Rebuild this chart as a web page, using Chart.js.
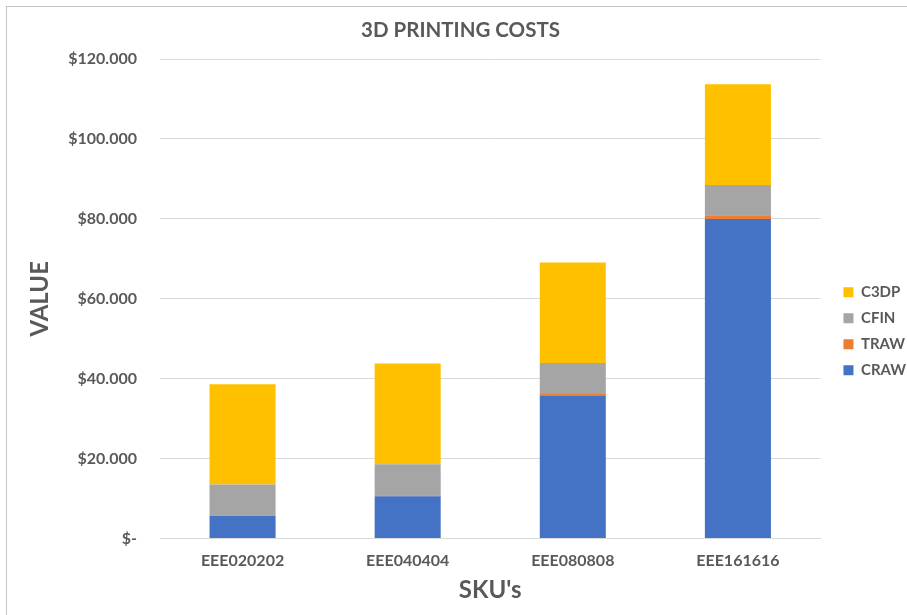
<!DOCTYPE html>
<html>
<head>
<meta charset="utf-8">
<script src="https://cdn.jsdelivr.net/npm/chart.js@4/dist/chart.umd.min.js"></script>
<style>
  html, body { margin: 0; padding: 0; background: #ffffff; }
  #frame {
    position: absolute; left: 6px; top: 6px;
    border-left: 1px solid #c4c4c4; border-top: 1px solid #c4c4c4;
    width: 900px; height: 608px;
  }
  canvas { display: block; }
</style>
</head>
<body>
<div id="frame"><canvas id="chart" width="900" height="608"></canvas></div>
<script>
// SKUs and cost components (USD)
const skus = ['EEE020202', 'EEE040404', 'EEE080808', 'EEE161616'];
const craw = [5700, 10600, 35700, 80000];
const traw = [100, 200, 500, 900];
const cfin = [7700, 7800, 7700, 7600];
const c3dp = [25100, 25200, 25200, 25200];

const FONT = "Lato, 'Open Sans', 'Liberation Sans', sans-serif";
const TEXT = '#595959';

function money(v) {
  if (v === 0) return '$-';
  return '$' + v.toLocaleString('de-DE');
}

// leave a wider gap between the plot and the legend column
const legendGap = {
  id: 'legendGap',
  afterLayout(chart) {
    const lg = chart.legend;
    if (!lg) return;
    const shift = chart.chartArea.right + 12 - lg.left;
    lg.left += shift;
    lg.right += shift;
  }
};

new Chart(document.getElementById('chart'), {
  type: 'bar',
  data: {
    labels: skus,
    datasets: [
      { label: 'CRAW', data: craw, backgroundColor: '#4472C4' },
      { label: 'TRAW', data: traw, backgroundColor: '#ED7D31' },
      { label: 'CFIN', data: cfin, backgroundColor: '#A5A5A5' },
      { label: 'C3DP', data: c3dp, backgroundColor: '#FFC000' }
    ]
  },
  plugins: [legendGap],
  options: {
    responsive: false,
    animation: false,
    devicePixelRatio: 1,
    layout: { padding: { left: 10, right: 3, top: 0, bottom: 0 } },
    datasets: { bar: { categoryPercentage: 1.0, barPercentage: 0.4 } },
    plugins: {
      title: {
        display: true,
        text: '3D PRINTING COSTS',
        color: TEXT,
        font: { family: FONT, size: 20.5, weight: 'bold' },
        padding: { top: 11, bottom: 16.5 }
      },
      legend: {
        position: 'right',
        reverse: true,
        title: { display: true, text: '', padding: { top: 0, bottom: 26 } },
        labels: {
          color: TEXT,
          boxWidth: 10,
          boxHeight: 10,
          padding: 11,
          font: { family: FONT, size: 15, weight: 'bold' }
        }
      },
      tooltip: { enabled: false }
    },
    scales: {
      x: {
        stacked: true,
        grid: { display: false, drawTicks: false },
        border: { color: '#d9d9d9' },
        ticks: { color: TEXT, padding: 13, font: { family: FONT, size: 16, weight: 'bold' } },
        title: {
          display: true, text: "SKU's", color: TEXT,
          font: { family: FONT, size: 24, weight: 'bold' },
          padding: { top: 0, bottom: 10 }
        },
        afterFit: s => { s.height = 76.5; }
      },
      y: {
        stacked: true,
        min: 0, max: 120000,
        grid: { color: '#d9d9d9', drawTicks: false },
        border: { display: false },
        ticks: {
          stepSize: 20000, padding: 23, color: TEXT,
          font: { family: FONT, size: 16, weight: 'bold' },
          callback: v => money(v)
        },
        title: {
          display: true, text: 'VALUE', color: TEXT,
          font: { family: FONT, size: 24, weight: 'bold' },
          padding: { top: 9, bottom: 0 }
        },
        afterFit: s => { s.width = 143; }
      }
    }
  }
});
</script>
</body>
</html>
